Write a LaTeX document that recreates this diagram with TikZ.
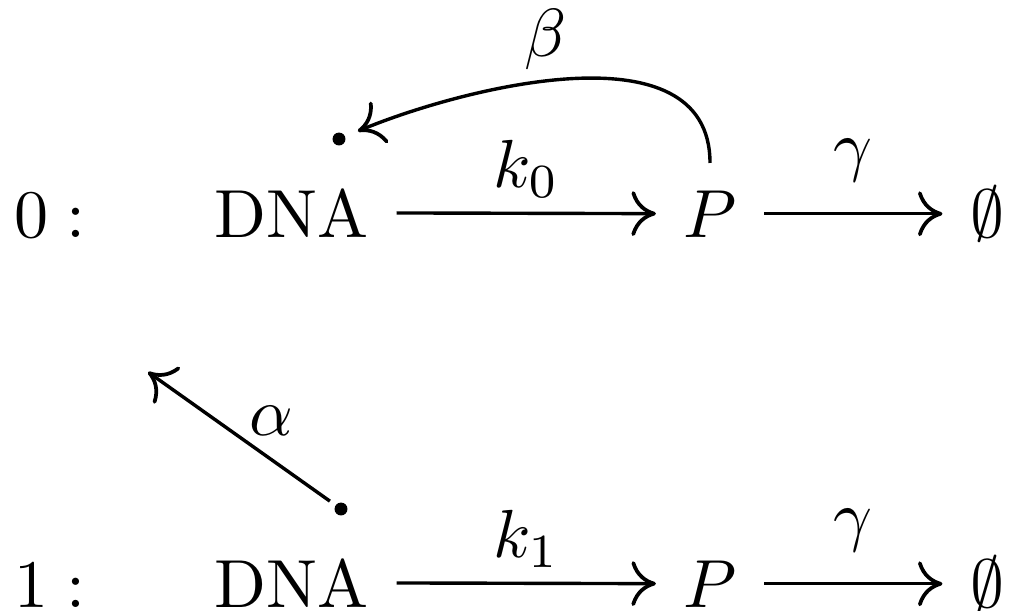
\documentclass[tikz,border=0pt]{standalone}
\usepackage{amsmath,amssymb}
\usepackage{tikz}
\usetikzlibrary{
  arrows.meta,
  positioning
}

\begin{document}
\begin{tikzpicture}[x=0.147pt,y=-0.147pt,line width=0.5pt,
    species/.style={inner sep=3.8pt,anchor=base},
    react/.style={-{Computer Modern Rightarrow[length=3.6pt,width=6.6pt,line width=0.55pt]}},
    rate/.style={inner sep=2pt}]
    \useasboundingbox (0,0) rectangle (1009,610);

    % Both states: DNA -> P -> nothing
    \foreach \s/\yb in {0/237,1/607} {
        \node[species] (lab\s) at (50,\yb) {$\s :$};
        \node[species] (dna\s) at (292,\yb) {DNA};
        \node[species] (p\s) at (710,\yb) {$P$};
        \node[species] (nil\s) at (987,\yb) {$\emptyset$};
        \draw[react] (dna\s) -- node[rate,above] {$k_\s$} (p\s);
        \draw[react] (p\s.east) -- node[rate,above=2.5pt] {$\gamma$} (p\s.east -| nil\s.west);
    }

    % Binding of P to the DNA in state 0
    \coordinate (dot0) at (339,139);
    \fill (dot0) circle (0.95pt);
    \draw[react,shorten >=3pt] (p0.north) .. controls +(0,-140) and +(120,-50) ..
        node[rate,above,pos=0.55,inner sep=1.5pt] {$\beta$} (dot0);

    % Release from state 1
    \coordinate (dot1) at (341,509);
    \coordinate (off1) at (148,372);
    \fill (dot1) circle (0.95pt);
    \draw[react,shorten <=2pt] (dot1) -- node[rate,above right,inner sep=0.5pt] {$\alpha$} (off1);
\end{tikzpicture}
\end{document}
